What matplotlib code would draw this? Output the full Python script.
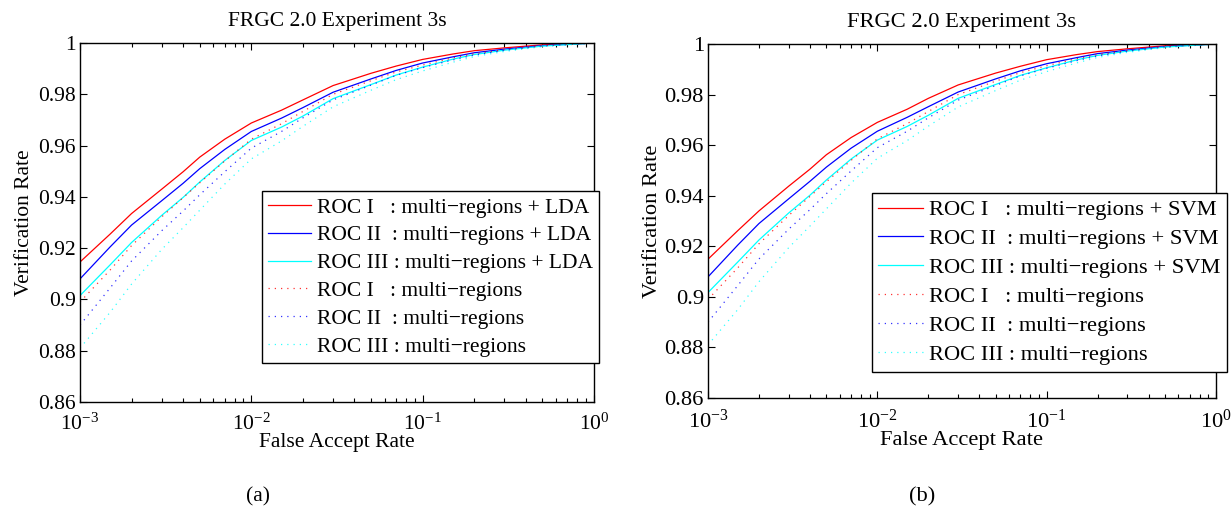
import matplotlib
matplotlib.use('Agg')
import matplotlib.pyplot as plt
import numpy as np
from matplotlib.ticker import LogLocator, FixedLocator, FuncFormatter, LogFormatterMathtext, NullFormatter

plt.rcParams['font.family'] = ['Liberation Serif', 'DejaVu Serif']
plt.rcParams['mathtext.fontset'] = 'custom'
plt.rcParams['mathtext.rm'] = 'Liberation Serif'
plt.rcParams['mathtext.it'] = 'Liberation Serif:italic'
plt.rcParams['mathtext.bf'] = 'Liberation Serif:bold'

# false accept rate sample points
far = [1e-3, 1.5e-3, 2e-3, 3e-3, 4e-3, 5e-3, 7e-3, 1e-2, 1.5e-2, 2e-2, 3e-2,
       5e-2, 7e-2, 0.1, 0.15, 0.2, 0.3, 0.5, 1.0]

# (a) multi-regions + LDA
lda_roc1 = [0.9146, 0.9255, 0.9335, 0.9430, 0.9498, 0.9555, 0.9625, 0.9688, 0.9738, 0.9778, 0.9834,
            0.9882, 0.9910, 0.9936, 0.9957, 0.9970, 0.9981, 0.9993, 1.0]
lda_roc2 = [0.9080, 0.9205, 0.9290, 0.9385, 0.9453, 0.9510, 0.9585, 0.9655, 0.9707, 0.9748, 0.9808,
            0.9860, 0.9893, 0.9922, 0.9946, 0.9962, 0.9976, 0.9990, 1.0]
lda_roc3 = [0.9015, 0.9135, 0.9222, 0.9328, 0.9398, 0.9458, 0.9542, 0.9620, 0.9672, 0.9715, 0.9783,
            0.9838, 0.9875, 0.9906, 0.9937, 0.9955, 0.9972, 0.9988, 1.0]

# (b) multi-regions + SVM
svm_roc1 = [0.9149, 0.9262, 0.9340, 0.9438, 0.9505, 0.9562, 0.9630, 0.9690, 0.9742, 0.9785, 0.9838,
            0.9885, 0.9912, 0.9938, 0.9958, 0.9970, 0.9981, 0.9993, 1.0]
svm_roc2 = [0.9079, 0.9205, 0.9290, 0.9388, 0.9457, 0.9513, 0.9588, 0.9655, 0.9710, 0.9752, 0.9810,
            0.9862, 0.9894, 0.9922, 0.9946, 0.9962, 0.9976, 0.9990, 1.0]
svm_roc3 = [0.9017, 0.9138, 0.9225, 0.9332, 0.9402, 0.9462, 0.9545, 0.9620, 0.9674, 0.9718, 0.9785,
            0.9840, 0.9876, 0.9906, 0.9937, 0.9955, 0.9972, 0.9988, 1.0]

# multi-regions only (baseline, dotted)
mr_roc1 = [0.8990, 0.9115, 0.9210, 0.9322, 0.9397, 0.9455, 0.9540, 0.9625, 0.9685, 0.9733, 0.9800,
           0.9853, 0.9887, 0.9914, 0.9942, 0.9958, 0.9974, 0.9989, 1.0]
mr_roc2 = [0.8900, 0.9045, 0.9150, 0.9268, 0.9345, 0.9408, 0.9498, 0.9590, 0.9655, 0.9708, 0.9778,
           0.9836, 0.9874, 0.9904, 0.9934, 0.9953, 0.9971, 0.9988, 1.0]
mr_roc3 = [0.8810, 0.8950, 0.9060, 0.9195, 0.9280, 0.9348, 0.9450, 0.9548, 0.9618, 0.9675, 0.9751,
           0.9816, 0.9857, 0.9891, 0.9925, 0.9947, 0.9967, 0.9986, 1.0]

yticks = [0.86, 0.88, 0.90, 0.92, 0.94, 0.96, 0.98, 1.0]
title = "FRGC 2.0 Experiment 3s"
names = ["ROC I   ", "ROC II  ", "ROC III "]
colors = ['#ff0000', '#0000ff', '#00ffff']

W, H = 1231, 515
fig = plt.figure(figsize=(W/100, H/100), dpi=100, facecolor='white')


def draw_panel(rect, solid, method, leg_anchor, sub, sub_x, fs, ypad):
    ax = fig.add_axes(rect)
    for i in range(3):
        ax.plot(far, solid[i], color=colors[i], lw=0.9,
                label=f"{names[i]}: multi\u2212regions + {method}")
    for i, y in enumerate([mr_roc1, mr_roc2, mr_roc3]):
        ax.plot(far, y, color=colors[i], lw=0.9, ls=(0, (1, 4)), alpha=0.8,
                label=f"{names[i]}: multi\u2212regions")
    ax.set_xscale('log')
    ax.set_xlim(1e-3, 1)
    ax.set_ylim(0.86, 1.0)
    ax.yaxis.set_major_locator(FixedLocator(yticks))
    ax.yaxis.set_major_formatter(FuncFormatter(lambda v, p: f"{v:g}"))
    ax.xaxis.set_major_locator(LogLocator(base=10, numticks=10))
    ax.xaxis.set_major_formatter(LogFormatterMathtext())
    ax.xaxis.set_minor_locator(LogLocator(base=10, subs=np.arange(2, 10), numticks=20))
    ax.xaxis.set_minor_formatter(NullFormatter())
    ax.tick_params(which='both', direction='in', top=True, right=True,
                   labelsize=fs, width=0.8)
    ax.tick_params(which='major', length=5)
    ax.tick_params(which='minor', length=3)
    ax.tick_params(axis='x', which='major', pad=8)
    ax.tick_params(axis='y', which='major', pad=3)
    for s in ax.spines.values():
        s.set_linewidth(1.0)
    ax.set_title(title, fontsize=fs, pad=12)
    ax.set_xlabel("False Accept Rate", fontsize=fs, labelpad=-1)
    ax.set_ylabel("Verification Rate", fontsize=fs, labelpad=ypad)
    leg = ax.legend(loc='upper right', bbox_to_anchor=leg_anchor,
                    bbox_transform=fig.transFigure, fontsize=fs,
                    fancybox=False, framealpha=1, edgecolor='black',
                    handlelength=2.0, handletextpad=0.25, labelspacing=0.36,
                    borderpad=0.3, borderaxespad=0)
    leg.get_frame().set_linewidth(1.0)
    fig.text(sub_x, 1 - 497/H, sub, ha='center', va='center', fontsize=fs)
    return ax


draw_panel([80/W, 1 - 402/H, 514/W, 359/H], [lda_roc1, lda_roc2, lda_roc3],
           'LDA', (599/W, 1 - 191/H), '(a)', 258/W, 15.5, 3)
draw_panel([708/W, 1 - 398/H, 508/W, 354/H], [svm_roc1, svm_roc2, svm_roc3],
           'SVM', (1227/W, 1 - 193/H), '(b)', 922/W, 16.2, 2)

plt.savefig("out.png", dpi=100, facecolor='white')
